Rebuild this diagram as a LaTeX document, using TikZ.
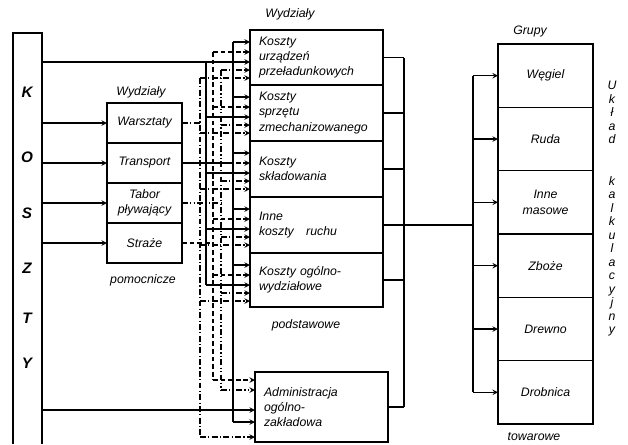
\documentclass[tikz,border=0pt]{standalone}
\usepackage{fontspec}
\setmainfont{Liberation Sans}
\usetikzlibrary{positioning}

\begin{document}
\begin{tikzpicture}[x=0.03cm, y=-0.03cm, >=stealth, line width=1.1pt,
    box/.style={draw, inner sep=0pt, outer sep=0pt, font=\itshape\fontsize{10.5}{13}\selectfont},
    mainbox/.style={box, minimum width=3.99cm, minimum height=1.68cm, text width=3.45cm, inner xsep=0.27cm, align=left},
    auxbox/.style={box, minimum width=2.25cm, minimum height=1.2cm, align=center},
    grpbox/.style={box, minimum width=2.85cm, minimum height=1.9cm, align=center},
    lbl/.style={font=\itshape\fontsize{10.5}{12}\selectfont},
    dashln/.style={dash pattern=on 4pt off 2.5pt},
    dotln/.style={dash pattern=on 5pt off 2pt on 1pt off 2pt},
    dotdotln/.style={dash pattern=on 5pt off 2pt on 1pt off 2pt on 1pt off 2pt}]

    \useasboundingbox (0,0) rectangle (628,444);

    % koszty
    \node[box, draw=none, minimum width=0.87cm, minimum height=12.33cm, anchor=north west] (koszty) at (13,33) {};
    \draw (koszty.south west) -- (koszty.north west) -- (koszty.north east) -- (koszty.south east);
    \foreach \ch/\yy [count=\i] in {K/92,O/157,S/213,Z/268,T/318,Y/363}
        \node[font=\bfseries\itshape\fontsize{13}{15}\selectfont] (k\i) at (27,\yy) {\ch};

    % wydzialy pomocnicze
    \node[lbl] (wydzpom) at (141,92) {Wydziały};
    \node[auxbox, anchor=north west] (warsztaty) at (107,103) {Warsztaty};
    \node[auxbox, below=0pt of warsztaty] (transport) {Transport};
    \node[auxbox, below=0pt of transport] (tabor) {Tabor\\pływający};
    \node[auxbox, below=0pt of tabor] (straze) {Straże};
    \node[lbl] (pomoc) at (143,280) {pomocnicze};

    % wydzialy podstawowe
    \node[lbl] (wydzpod) at (290,14) {Wydziały};
    \node[mainbox, anchor=north west, minimum height=1.65cm] (urzadz) at (250,30) {Koszty\\urządzeń\\przeładunkowych};
    \node[mainbox, below=0pt of urzadz] (sprzet) {Koszty\\sprzętu\\zmechanizowanego};
    \node[mainbox, below=0pt of sprzet] (sklad) {Koszty\\składowania};
    \node[mainbox, below=0pt of sklad] (ruch) {Inne\\koszty\quad ruchu};
    \node[mainbox, below=0pt of ruch, minimum height=1.62cm] (wydzial) {Koszty ogólno-\\wydziałowe};
    \node[lbl] (podst) at (306,325) {podstawowe};
    \node[mainbox, anchor=north west, minimum height=2.1cm] (admin) at (255,372) {Administracja\\ogólno-\\zakładowa};

    % grupy towarowe
    \node[lbl] (grupy) at (530,31) {Grupy};
    \node[grpbox, anchor=north west] (wegiel) at (498,44) {Węgiel};
    \node[grpbox, below=0pt of wegiel] (ruda) {Ruda};
    \node[grpbox, below=0pt of ruda] (inne) {Inne\\masowe};
    \node[grpbox, below=0pt of inne] (zboze) {Zboże};
    \node[grpbox, below=0pt of zboze] (drewno) {Drewno};
    \node[grpbox, below=0pt of drewno] (drobnica) {Drobnica};
    \node[lbl] (towar) at (534,437) {towarowe};

    \foreach \ch [count=\i] in {U,k,ł,a,d}
        \node[lbl, anchor=base] (u\i) at (612,{76+13.5*\i}) {\ch};
    \foreach \ch [count=\i] in {k,a,l,k,u,l,a,c,y,j,n,y}
        \node[lbl, anchor=base] (c\i) at (612,{171.5+13.5*\i}) {\ch};

    % szyny
    \coordinate (busW) at (200,0);
    \coordinate (busD) at (206,0);
    \coordinate (busS) at (213,0);
    \coordinate (busP) at (221,0);
    \coordinate (busT) at (233,0);
    \coordinate (busO) at (404,0);
    \coordinate (busG) at (473,0);

    \foreach \ax in {warsztaty,transport,tabor,straze}
        \draw[->] (koszty.east |- \ax.west) -- (\ax.west);

    \draw[dotln] (warsztaty.east) -- (busW |- warsztaty.east);
    \draw (transport.east) -- (busT |- transport.east);
    \draw[dotdotln] (tabor.east) -- (busP |- tabor.east);
    \draw[dashln] (straze.east) -- (busS |- straze.east);

    \draw (koszty.east |- 0,62) -- (busD |- 0,62);
    \draw (busT |- 0,42) -- (busT |- 0,422);
    \draw[dashln] (busS |- 0,52) -- (busS |- 0,380);
    \draw (busD |- 0,62) -- (busD |- 0,285);
    \draw[dotdotln] (busP |- 0,70) -- (busP |- 0,390);
    \draw[dotln] (busW |- 0,78) -- (busW |- 0,437);

    \foreach \bx/\ty in {urzadz/30,sprzet/85,sklad/141,ruch/197,wydzial/253}{
        \draw[->] (busT |- 0,\ty+12) -- (\bx.west |- 0,\ty+12);
        \draw[->, dashln] (busS |- 0,\ty+22) -- (\bx.west |- 0,\ty+22);
        \draw[->] (busD |- 0,\ty+32) -- (\bx.west |- 0,\ty+32);
        \draw[->, dotdotln] (busP |- 0,\ty+40) -- (\bx.west |- 0,\ty+40);
        \draw[->, dotln] (busW |- 0,\ty+48) -- (\bx.west |- 0,\ty+48);
    }

    \draw[->, dashln] (busS |- 0,380) -- (admin.west |- 0,380);
    \draw[->, dotdotln] (busP |- 0,390) -- (admin.west |- 0,390);
    \draw[->] (koszty.east |- 0,410) -- (admin.west |- 0,410);
    \draw[->] (busT |- 0,422) -- (admin.west |- 0,422);
    \draw[->, dotln] (busW |- 0,437) -- (admin.west |- 0,437);

    % do grup
    \foreach \bx in {urzadz,sprzet,sklad,ruch,wydzial,admin}
        \draw (\bx.east) -- (busO |- \bx.east);
    \draw (busO |- urzadz.east) -- (busO |- admin.east);
    \draw (busO |- ruch.east) -- (busG |- ruch.east);
    \draw (busG |- wegiel.west) -- (busG |- drobnica.west);
    \foreach \gx in {wegiel,ruda,inne,zboze,drewno,drobnica}
        \draw[->] (busG |- \gx.west) -- (\gx.west);
\end{tikzpicture}
\end{document}
